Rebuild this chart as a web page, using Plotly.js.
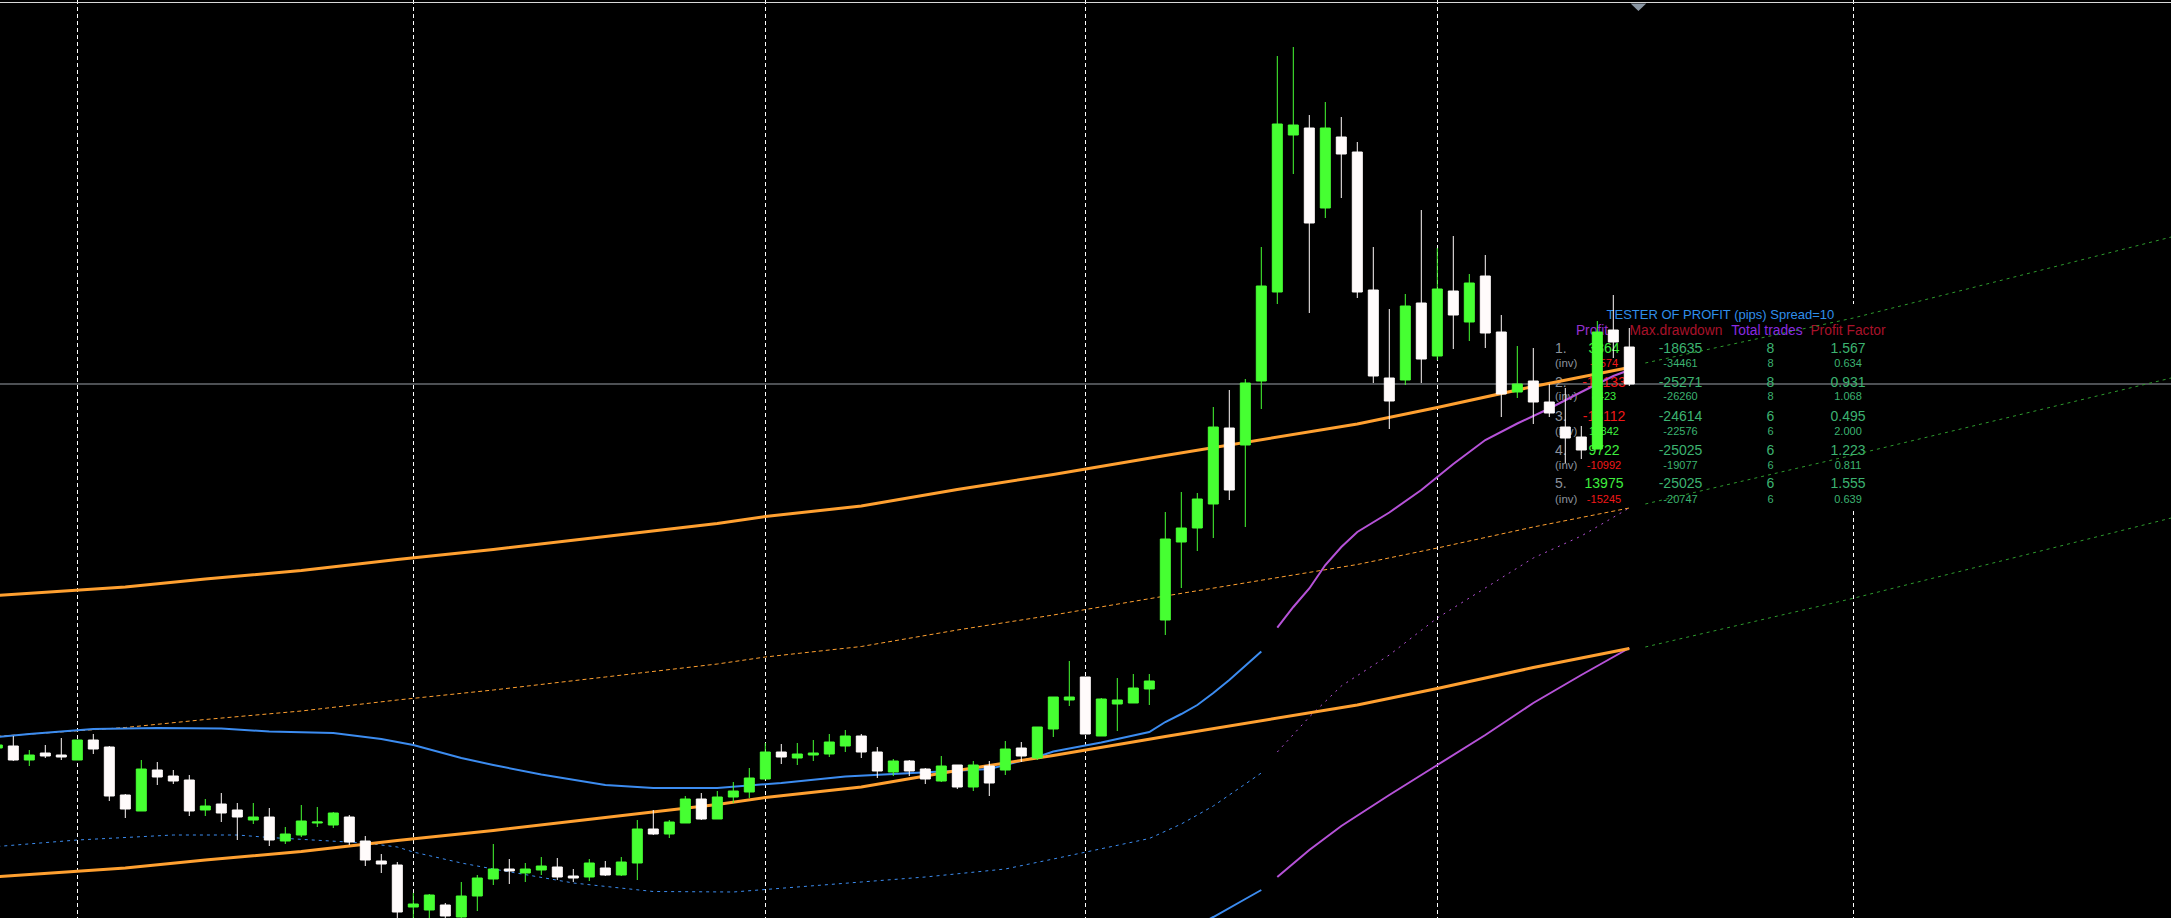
<!DOCTYPE html>
<html>
<head>
<meta charset="utf-8">
<script src="https://cdn.plot.ly/plotly-3.0.1.min.js"></script>
<style>html,body{margin:0;padding:0;background:#000;overflow:hidden}</style>
</head>
<body>
<div id="chart" style="width:2171px;height:918px"></div>
<script>
// ---------------- DATA (price in points) ----------------
// bars from index -1 (partly hidden at left edge) to 101
const open  = [170,172,158,165,163,158,178,171,123,107,148,142,138,108,114,108,98,101,77,83,95,93,101,77,57,53,11,8,13,1,22,39,49,45,48,51,42,41,50,43,55,89,84,95,119,99,121,126,139,166,160,163,164,172,182,166,146,157,149,137,153,131,152,148,170,160,189,218,241,182,214,215,229,298,376,390,414,490,473,537,626,783,790,710,781,766,628,540,538,615,562,627,596,642,586,526,537,516,491,481,469,588,571];
const high  = [176,182,168,173,180,178,184,172,124,158,156,148,143,119,125,115,115,110,91,113,111,106,103,82,64,56,25,24,15,36,43,74,59,55,61,60,49,59,57,61,98,108,98,122,125,127,136,150,175,174,175,178,184,188,184,171,159,158,150,162,153,157,157,177,176,191,221,257,241,220,240,244,244,406,426,425,511,528,539,671,862,871,803,816,801,776,671,609,624,708,670,682,644,663,603,572,570,534,530,492,597,623,590];
const low   = [167,157,152,160,158,158,164,117,100,107,133,134,102,102,96,78,94,72,74,81,91,90,73,52,45,-4,-2,-2,-2,-2,7,33,34,36,43,38,36,37,42,42,38,83,80,95,98,99,115,120,139,154,153,157,161,166,160,140,142,142,134,136,129,127,122,143,156,158,181,212,184,182,187,215,213,283,330,367,380,418,391,509,614,744,605,700,720,620,535,489,533,535,558,569,577,570,501,520,494,501,455,459,469,560,532];
const close = [173,158,163,162,161,178,169,122,109,149,141,137,107,112,105,101,101,78,84,97,96,105,76,58,54,6,14,23,2,22,40,49,47,49,52,41,40,55,43,56,89,84,96,119,99,121,127,140,166,161,164,165,176,182,166,147,157,147,139,152,131,153,135,169,162,191,221,221,184,219,218,230,237,379,390,419,491,428,535,632,794,793,695,790,764,626,542,517,612,559,629,603,635,585,524,534,516,505,480,468,586,576,534];
const barIndex = open.map((_, i) => i - 1);

// Orange channel (upper / middle / lower)
const orangeIdx   = [-1,7,12,18,24,30,37,44,47,53,59,65,72,79,84,89,95,101];
const orangeUpper = [322.5,331,339,347.5,358.5,368.5,381.5,394.5,401.5,412,428.5,443.5,462.5,480.5,494,510.5,531.5,550.5];
const orangeMid   = [181.7,190.5,198.5,207,218,228,241,254,261,271.5,288,303,322,340,353.5,370,391,410];
const orangeLower = [41.2,50,58,66.5,77.5,87.5,100.5,113.5,120.5,131,147.5,162.5,181.5,199.5,213,229.5,250.5,269.5];

// Blue band
const blueUpIdx = [-1,1,5,9,13,16,20,23,25,28,30,33,37,40,44,48,52,57,61,64,65,68,71,72,73,74,75,76,77,78];
const blueUpper = [181,184,189,190,189.5,186.5,185,179,173,160,153,143.5,133,130,130,135,141.5,145.5,149,161,166.5,175.5,186,196,204,213,225,238,252,266.5];
const blueMidIdx = [-1,4,10,14,16,22,24,25,28,30,35,40,45,48,53,57,62,65,71,73,75,78];
const blueMid    = [71.5,78,83,83,80.5,75,71,66,55,49,35,26.5,26,30,36,41,49,59,79.5,94,112,145];
const blueLowIdx = [73,75,77,78];
const blueLower  = [-16,1,19,28];

// Purple band
const purpleUpIdx = [79,80,81,82,83,84,86,88,90,92,94,96,98,100,101];
const purpleUpper = [290.3,311,329.5,353,371,386,405.5,428,454,478,494.5,509.5,526,542,548];
const purpleIdx   = [79,81,83,86,89,92,95,98,101];
const purpleMid   = [166,201,232,263,300,330,360,382,410];
const purpleLower = [41,68,92,123,153,183,215,243,270];

// Green projection of the channel
const projIdx   = [102,115,135];
const projUpper = [555,600,681.5];
const projMid   = [414,463,540.5];
const projLower = [271,319.7,400.5];

// Period separators (bar indices)
const separators = [4,25,47,67,89,115];

// Tester table
const tableTitle = 'TESTER OF PROFIT (pips) Spread=10';
const tableHeaders = ['Profit','Max.drawdown','Total trades','Profit Factor'];
const rankLabels = ['1.','2.','3.','4.','5.'];
const profit     = [3864,-10133,-13112,9722,13975];
const profitInv  = [-5574,8423,11842,-10992,-15245];
const maxDD      = [-18635,-25271,-24614,-25025,-25025];
const maxDDInv   = [-34461,-26260,-22576,-19077,-20747];
const trades     = [8,8,6,6,6];
const tradesInv  = [8,8,6,6,6];
const pf         = [1.567,0.931,0.495,1.223,1.555];
const pfInv      = [0.634,1.068,2.000,0.811,0.639];

// ---------------- LAYOUT / STYLE ----------------
const W = 2171, H = 918;
const X0 = -0.83125, X1 = 134.85625, Y0 = 0, Y1 = 918;
const xAt = px => X0 + px / W * (X1 - X0);
const yAt = py => Y1 - py / H * (Y1 - Y0);

const C = {
  green: '#46FF32', white: '#FFFBFB', orange: '#FFA030', blue: '#3C8CF0',
  purple: '#B652D8', proj: '#2E9B2E', bid: '#9AA0A8',
  title: '#2F8EEA', hdrA: '#9530D0', hdrB: '#A8122A', hdrC: '#8A2BE2',
  label: '#8C929C', pos: '#3EEE3E', neg: '#F01818', val: '#3CB371'
};
const FONT = 'Liberation Sans, Arial, sans-serif';

const colProfit = 1604, colDD = 1680.5, colTrades = 1770.5, colPF = 1848, colLabel = 1555;
const headerX = [1592, 1676, 1767, 1848];
const mainRowY = [348.3, 382.3, 415.7, 450, 483.3];
const invRowY  = [362.7, 396, 431, 465, 499];
const yShift = 1.4;

// ---------------- BASE LAYER: table backdrop, bid line, text ----------------
const traces = [];
traces.push({
  type: 'scatter', mode: 'lines', xaxis: 'x', yaxis: 'y',
  x: [xAt(1550), xAt(1895), xAt(1895), xAt(1550), xAt(1550)],
  y: [yAt(304), yAt(304), yAt(511), yAt(511), yAt(304)],
  fill: 'toself', fillcolor: '#000000', line: {width: 0}, hoverinfo: 'skip'
});
const lastClose = close[close.length - 1];
traces.push({
  type: 'scatter', mode: 'lines', xaxis: 'x', yaxis: 'y',
  x: [X0, X1], y: [lastClose, lastClose],
  line: {color: C.bid, width: 1}, hoverinfo: 'skip'
});

const tx = [], ty = [], tt = [], tc = [], ts = [], tp = [];
function addText(px, py, text, color, size, pos) {
  tx.push(xAt(px)); ty.push(yAt(py + yShift)); tt.push(text);
  tc.push(color); ts.push(size); tp.push(pos || 'middle center');
}
addText(1720.4, 314, tableTitle, C.title, 13);
const hdrColors = [C.hdrA, C.hdrB, C.hdrC, C.hdrB];
tableHeaders.forEach((h, i) => addText(headerX[i], 330, h, hdrColors[i], 13.8));
rankLabels.forEach((lab, i) => {
  addText(colLabel, mainRowY[i], lab, C.label, 14, 'middle right');
  addText(colProfit, mainRowY[i], String(profit[i]), profit[i] >= 0 ? C.pos : C.neg, 14);
  addText(colDD, mainRowY[i], String(maxDD[i]), C.val, 14);
  addText(colTrades, mainRowY[i], String(trades[i]), C.val, 14);
  addText(colPF, mainRowY[i], pf[i].toFixed(3), C.val, 14);
  addText(colLabel, invRowY[i], '(inv)', C.label, 11.5, 'middle right');
  addText(colProfit, invRowY[i], String(profitInv[i]), profitInv[i] >= 0 ? C.pos : C.neg, 11);
  addText(colDD, invRowY[i], String(maxDDInv[i]), C.val, 11);
  addText(colTrades, invRowY[i], String(tradesInv[i]), C.val, 11);
  addText(colPF, invRowY[i], pfInv[i].toFixed(3), C.val, 11);
});
traces.push({
  type: 'scatter', mode: 'text', xaxis: 'x', yaxis: 'y',
  x: tx, y: ty, text: tt, textposition: tp,
  textfont: {family: FONT, color: tc, size: ts}, hoverinfo: 'skip'
});

// ---------------- MIDDLE LAYER: indicator lines ----------------
function line(x, y, color, width, dash) {
  return {type: 'scatter', mode: 'lines', xaxis: 'x2', yaxis: 'y2', x: x, y: y,
          line: {color: color, width: width, dash: dash || 'solid'}, hoverinfo: 'skip'};
}
traces.push(line(blueMidIdx, blueMid, C.blue, 1, '3px,4px'));
traces.push(line(purpleIdx, purpleMid, C.purple, 1, '2px,5px'));
traces.push(line(orangeIdx, orangeMid, C.orange, 1, '4px,3px'));
traces.push(line(projIdx, projUpper, C.proj, 1, '3px,4px'));
traces.push(line(projIdx, projMid, C.proj, 1, '3px,4px'));
traces.push(line(projIdx, projLower, C.proj, 1, '3px,4px'));
traces.push(line(blueUpIdx, blueUpper, C.blue, 2));
traces.push(line(blueLowIdx, blueLower, C.blue, 2));
traces.push(line(purpleUpIdx, purpleUpper, C.purple, 2));
traces.push(line(purpleIdx, purpleLower, C.purple, 2));
traces.push(line(orangeIdx, orangeUpper, C.orange, 3));
traces.push(line(orangeIdx, orangeLower, C.orange, 3));

// ---------------- TOP LAYER: candles ----------------
traces.push({
  type: 'candlestick', xaxis: 'x3', yaxis: 'y3',
  x: barIndex, open: open, high: high, low: low, close: close,
  increasing: {line: {color: C.green, width: 1}, fillcolor: C.green},
  decreasing: {line: {color: C.white, width: 1}, fillcolor: C.white},
  whiskerwidth: 0, hoverinfo: 'skip'
});

const hidden = {range: [X0, X1], visible: false, fixedrange: true};
const layout = {
  width: W, height: H,
  margin: {l: 0, r: 0, t: 0, b: 0, pad: 0},
  paper_bgcolor: '#000000', plot_bgcolor: '#000000',
  showlegend: false, hovermode: false,
  boxgap: 0.375, boxgroupgap: 0,
  xaxis: {range: [X0, X1], tickvals: separators, showticklabels: false, ticks: '',
          showgrid: true, gridcolor: '#FFFFFF', gridwidth: 1, griddash: '4px,3px',
          zeroline: false, showline: false, fixedrange: true},
  yaxis: {range: [Y0, Y1], showgrid: false, zeroline: false, showticklabels: false,
          ticks: '', showline: false, fixedrange: true},
  xaxis2: Object.assign({overlaying: 'x'}, hidden),
  yaxis2: {overlaying: 'y', range: [Y0, Y1], visible: false, fixedrange: true},
  xaxis3: Object.assign({overlaying: 'x', rangeslider: {visible: false}}, hidden),
  yaxis3: {overlaying: 'y', range: [Y0, Y1], visible: false, fixedrange: true},
  shapes: [
    {type: 'line', xref: 'paper', yref: 'paper', x0: 0, x1: 1,
     y0: 1 - 2.5 / H, y1: 1 - 2.5 / H, line: {color: '#D8D8D8', width: 1}},
    {type: 'path', xref: 'x', yref: 'paper',
     path: 'M 101.08 ' + (1 - 3.5 / H) + ' L 102.06 ' + (1 - 3.5 / H) + ' L 101.57 ' + (1 - 11 / H) + ' Z',
     fillcolor: '#8A96A3', line: {width: 0}}
  ]
};
Plotly.newPlot('chart', traces, layout, {staticPlot: true, displayModeBar: false});
</script>
</body>
</html>
